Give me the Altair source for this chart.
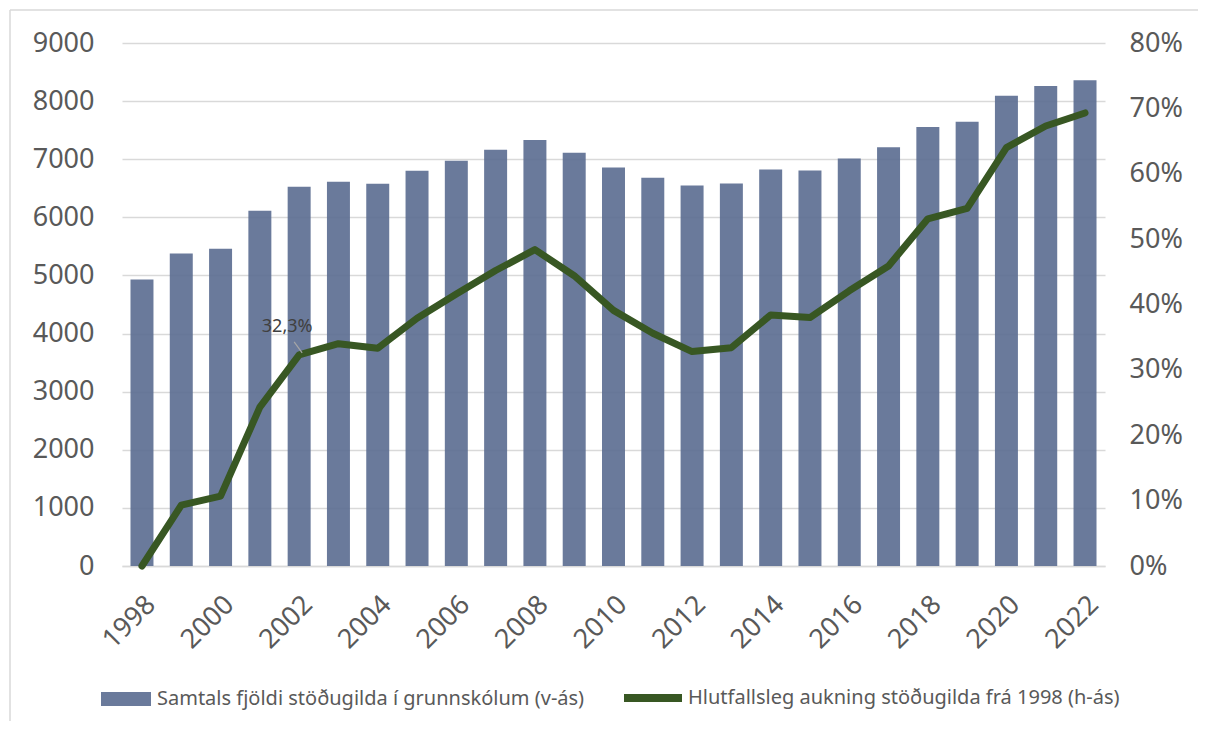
import altair as alt
import pandas as pd

years = list(range(1998, 2023))
stodugildi = [4931, 5379, 5459, 6113, 6527, 6613, 6578, 6802, 6974, 7163, 7330, 7112,
              6859, 6681, 6549, 6584, 6825, 6808, 7014, 7204, 7554, 7646, 8093, 8260, 8357]
aukning_pct = [0.0, 9.3, 10.7, 24.3, 32.3, 34.0, 33.3, 37.9, 41.6, 45.2, 48.4, 44.4,
               39.1, 35.6, 32.8, 33.4, 38.4, 38.0, 42.1, 45.9, 53.1, 54.7, 64.0, 67.3, 69.3]
bar_label = "Samtals fjöldi stöðugilda í grunnskólum (v-ás)"
line_label = "Hlutfallsleg aukning stöðugilda frá 1998 (h-ás)"
x_tick_years = list(range(1998, 2023, 2))
left_ticks = list(range(0, 9001, 1000))
right_ticks = [i / 10 for i in range(0, 9)]
annot_year = [2002]
annot_value = [0.323]
annot_text = ["32,3%"]

df = pd.DataFrame({
    "year": years,
    "count": stodugildi,
    "pct": [v / 100 for v in aukning_pct],
    "s1": [bar_label] * len(years),
    "s2": [line_label] * len(years),
})
annot = pd.DataFrame({"year": annot_year, "pct": annot_value, "label": annot_text})

BAR = "#5a6c90"
GREEN = "#385723"
TXT = "#595959"
GRID = "#d9d9d9"

x_enc = alt.X(
    "year:O",
    scale=alt.Scale(paddingInner=0.415, paddingOuter=0.216),
    axis=alt.Axis(values=x_tick_years, labelAngle=-45, labelFontSize=27, labelColor=TXT,
                  ticks=False, domain=True, domainColor=GRID, domainWidth=1.3,
                  labelPadding=25, title=None, grid=False),
)

one = pd.DataFrame({"a": [0]})
border_top = alt.Chart(one).mark_rule(color=GRID, strokeWidth=1.5).encode(
    x=alt.value(-112), x2=alt.value(1200), y=alt.value(-33)
)
border_left = alt.Chart(one).mark_rule(color=GRID, strokeWidth=1.5).encode(
    x=alt.value(-112), y=alt.value(-33), y2=alt.value(800)
)

bars = alt.Chart(df).mark_bar(opacity=0.9).encode(
    x=x_enc,
    y=alt.Y("count:Q", scale=alt.Scale(domain=[0, 9000], nice=False),
            axis=alt.Axis(values=left_ticks, format="d", labelFontSize=27, labelColor=TXT,
                          labelPadding=28, domain=False, ticks=False, grid=True,
                          gridColor=GRID, gridWidth=1.3, title=None)),
    fill=alt.Fill("s1:N", scale=alt.Scale(domain=[bar_label], range=[BAR]),
                  legend=alt.Legend(orient="none", legendX=-22, legendY=630, title=None,
                                    symbolType="M-1,-0.28H1V0.28H-1Z", symbolSize=2500,
                                    symbolOpacity=0.9, labelFontSize=20, labelColor=TXT,
                                    labelOffset=5, labelLimit=1000)),
)

line = alt.Chart(df).mark_line(strokeWidth=7, strokeJoin="round", strokeCap="round").encode(
    x=x_enc,
    y=alt.Y("pct:Q", scale=alt.Scale(domain=[0, 0.8], nice=False),
            axis=alt.Axis(orient="right", values=right_ticks, format=".0%", labelFontSize=27,
                          labelColor=TXT, labelPadding=24, domain=False, ticks=False,
                          grid=False, title=None)),
    stroke=alt.Stroke("s2:N", scale=alt.Scale(domain=[line_label], range=[GREEN]),
                      legend=alt.Legend(orient="none", legendX=498, legendY=622, title=None,
                                        symbolType="stroke", symbolStrokeWidth=8,
                                        symbolSize=3364, labelFontSize=20, labelColor=TXT,
                                        labelOffset=2, labelLimit=1000)),
)

leader = alt.Chart(annot).mark_rule(
    color="#a6a6a6", strokeWidth=1.2, xOffset=-5, x2Offset=3, yOffset=-13, y2Offset=-2
).encode(
    x=alt.X("year:O"), x2="year:O",
    y=alt.Y("pct:Q", scale=alt.Scale(domain=[0, 0.8], nice=False), axis=None),
    y2="pct:Q",
)

text = alt.Chart(annot).mark_text(dx=-12, dy=-28, fontSize=18, color="#404040").encode(
    x=alt.X("year:O"),
    y=alt.Y("pct:Q", scale=alt.Scale(domain=[0, 0.8], nice=False), axis=None),
    text="label:N",
)

chart = alt.layer(border_top, border_left, bars, line, leader, text).resolve_scale(
    y="independent"
).properties(
    width=983, height=523,
    autosize=alt.AutoSizeParams(type="none"),
    padding={"left": 114, "top": 35, "right": 93, "bottom": 155},
).configure(font="Noto Sans").configure_view(strokeWidth=0)

chart.save("out.html", embed_options={"renderer": "svg", "actions": False})
